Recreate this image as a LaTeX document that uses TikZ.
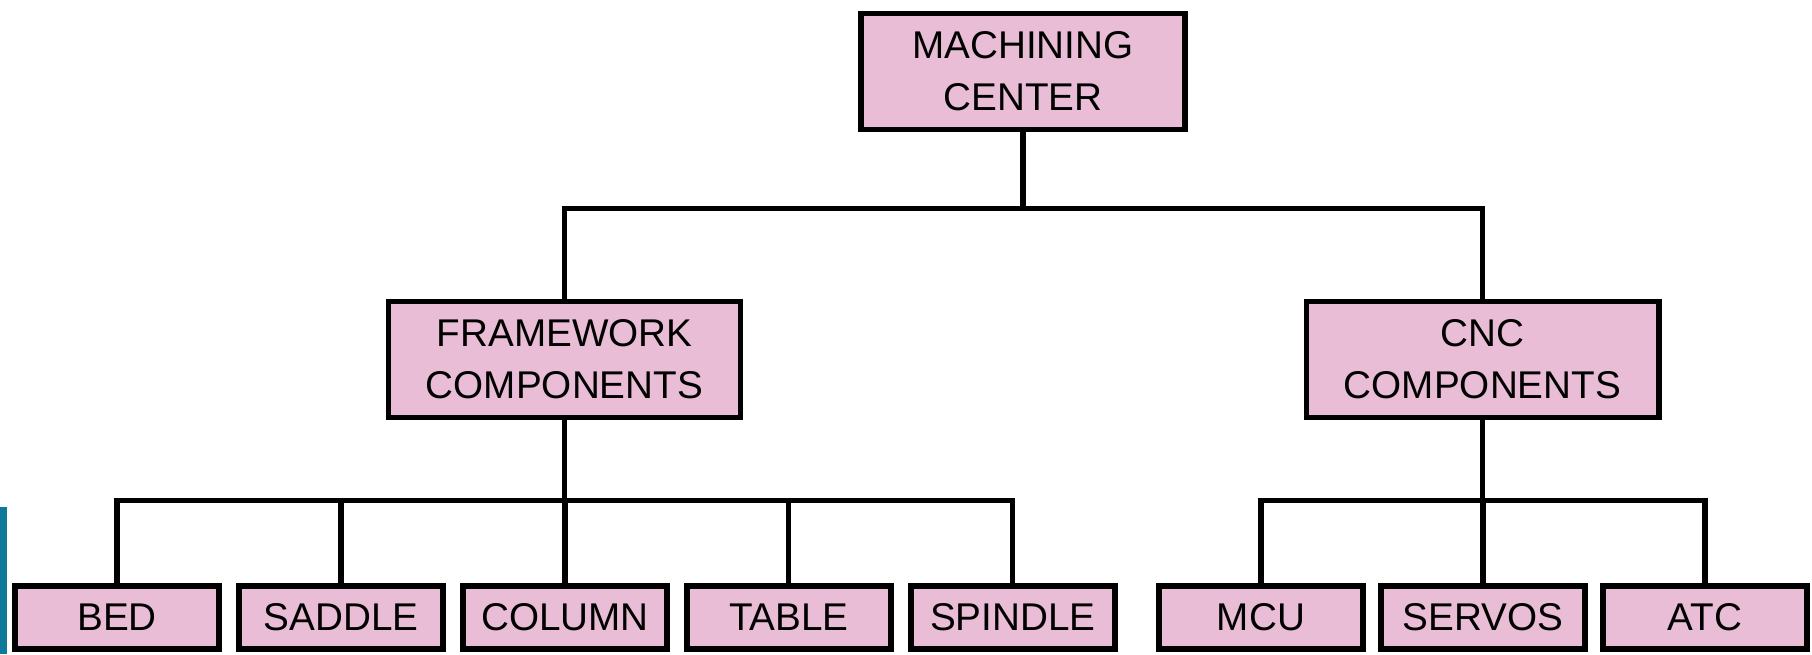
\documentclass[tikz,border=0pt]{standalone}
\usepackage{fontspec}
\setmainfont{Liberation Sans}
\usepackage{tikz}
\usetikzlibrary{positioning,calc}
\usepackage{xcolor}
\definecolor{boxpink}{RGB}{233,189,214}
\definecolor{stripteal}{RGB}{12,122,152}

\begin{document}
\begin{tikzpicture}[
  box/.style={draw, line width=1.7pt, fill=boxpink, inner sep=2pt, align=center,
    font={\fontsize{11pt}{14.8pt}\selectfont}},
  bigbox/.style={box, minimum width=3.52cm, minimum height=1.16cm},
  partbox/.style={box, minimum width=2.04cm, minimum height=0.63cm},
  link/.style={line width=1.45pt}
]
  \useasboundingbox (0,0) rectangle (18.12,6.54);
  \fill[stripteal] (0,0) rectangle (0.07,1.47);

  \node[bigbox, minimum width=3.24cm] (top) at (10.23,5.825) {MACHINING\\CENTER};
  \node[bigbox] (fw) at (5.645,2.945) {FRAMEWORK\\COMPONENTS};
  \node[bigbox] (cnc) at (14.825,2.945) {CNC\\COMPONENTS};

  \node[partbox] (bed) at (1.17,0.365) {BED};
  \node[partbox, right=0.14cm of bed] (saddle) {SADDLE};
  \node[partbox, right=0.14cm of saddle] (column) {COLUMN};
  \node[partbox, right=0.14cm of column] (table) {TABLE};
  \node[partbox, right=0.14cm of table] (spindle) {SPINDLE};

  \node[partbox] (mcu) at (12.61,0.365) {MCU};
  \node[partbox, right=0.12cm of mcu] (servos) {SERVOS};
  \node[partbox, right=0.12cm of servos] (atc) {ATC};

  % bus joints
  \coordinate (jtop) at ($(top.south)+(0,-0.76)$);
  \coordinate (jfw) at ($(fw.south)+(0,-0.80)$);
  \coordinate (jcnc) at ($(cnc.south)+(0,-0.80)$);

  \draw[link] (top.south) -- (jtop);
  \foreach \n in {fw,cnc}
    \draw[link] (\n.north) |- (jtop);

  \draw[link] (fw.south) -- (jfw);
  \foreach \n in {bed,saddle,column,table,spindle}
    \draw[link] (\n.north) |- (jfw);

  \draw[link] (cnc.south) -- (jcnc);
  \foreach \n in {mcu,servos,atc}
    \draw[link] (\n.north) |- (jcnc);
\end{tikzpicture}
\end{document}
